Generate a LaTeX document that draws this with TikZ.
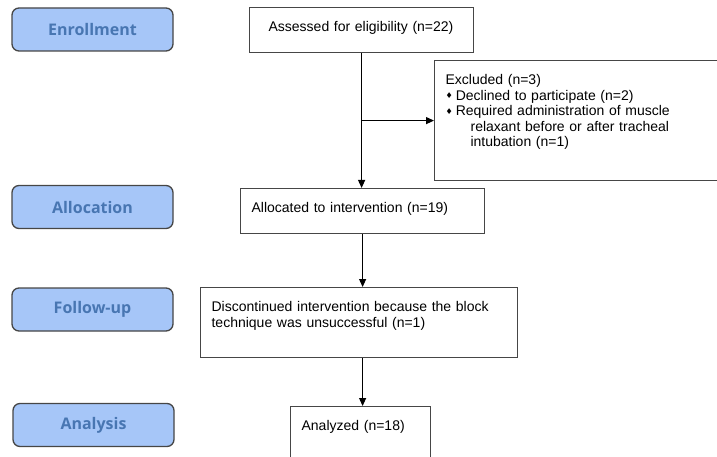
\documentclass[tikz,border=0pt]{standalone}
\usepackage{fontspec}
\setmainfont{Liberation Sans}
\newfontfamily\phasefont{Open Sans}
\newfontfamily\symfont{DejaVu Sans}
\usepackage{tikz}
\definecolor{phasefill}{RGB}{166, 198, 248}
\definecolor{phasetext}{RGB}{72, 118, 178}
\definecolor{boxline}{RGB}{70, 70, 70}
\usetikzlibrary{shapes, arrows.meta, positioning, calc}
\newcommand{\bul}{{\symfont\fontsize{8}{8}\selectfont\raisebox{1.5pt}{♦}}\hspace{3pt}}

\begin{document}
\begin{tikzpicture}[
    x=1pt, y=-1pt,
    phase/.style={rectangle, draw=boxline, line width=1.3pt, fill=phasefill, rounded corners=7pt, minimum width=161pt, minimum height=43pt, align=center, font=\phasefont\fontsize{16}{19}\selectfont\bfseries, text=phasetext},
    stage/.style={rectangle, draw=boxline, line width=1.2pt, anchor=north west, align=left, inner ysep=12pt, inner xsep=11pt, text height=12pt, font=\fontsize{14}{15.5}\selectfont},
    arrow/.style={-{Triangle[width=7pt,length=8pt]}, line width=1.1pt, black}
]
    \useasboundingbox (0,0) rectangle (717,457);
    \clip (0,0) rectangle (717,457);

    % Phases on the left
    \node[phase] (enroll) at (92.5,29.5) {Enrollment};
    \node[phase] (alloc) at (92.5,207) {Allocation};
    \node[phase] (follow) at (92.5,309.5) {Follow-up};
    \node[phase] (analysis) at (93.5,425) {Analysis};

    % Boxes of the flow
    \node[stage, inner xsep=19pt, text width=186pt, text depth=9pt] (assess) at (249,7) {\mbox{Assessed for eligibility (n=22)}};
    \node[stage, text width=275pt, text depth=84pt] (excl) at (434,60) {Excluded (n=3)\\
        \bul Declined to participate (n=2)\\
        \bul Required administration of muscle\\
        \hspace{25pt}relaxant before or after tracheal\\
        \hspace{25pt}intubation (n=1)};
    \node[stage, text width=222pt, text depth=9pt] (given) at (240,188) {Allocated to intervention (n=19)};
    \node[stage, text width=295pt, text depth=34pt] (disc) at (200,287) {Discontinued intervention because the block\\technique was unsuccessful (n=1)};
    \node[stage, text width=118pt, text depth=28pt] (analyzed) at (290,406) {Analyzed (n=18)};

    % Arrows
    \draw[arrow] (assess.south) -- (assess.south |- given.north);
    \draw[arrow] (assess.south |- excl.west) -- (excl.west);
    \draw[arrow] (given.south) -- (given.south |- disc.north);
    \draw[arrow] (given.south |- disc.south) -- (given.south |- analyzed.north);

\end{tikzpicture}
\end{document}
